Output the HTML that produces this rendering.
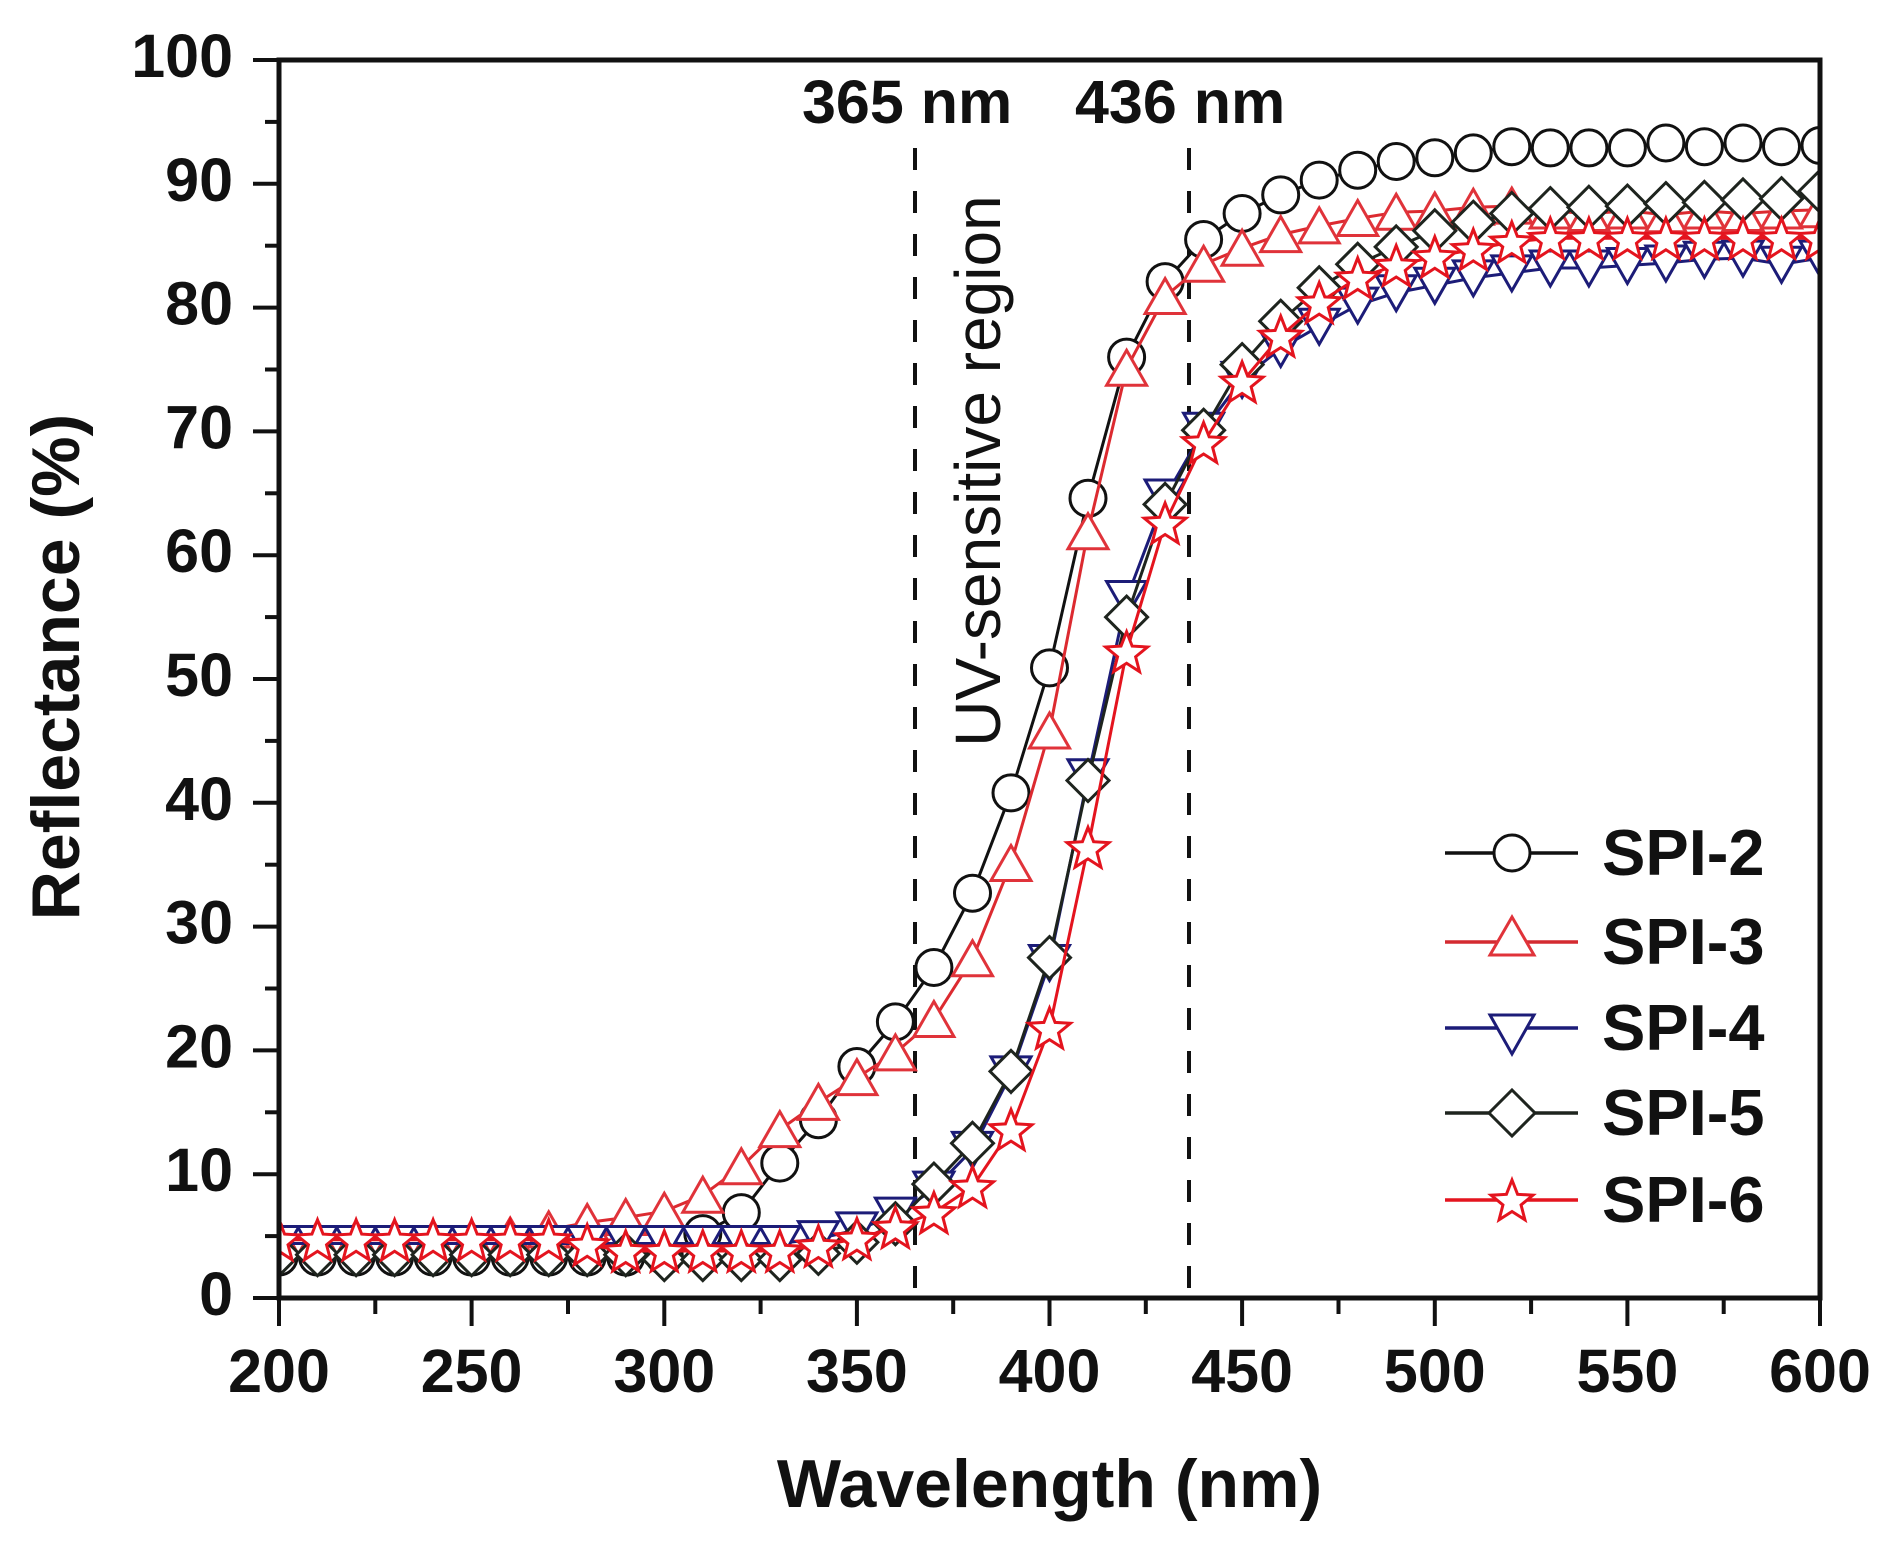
<!DOCTYPE html>
<html><head><meta charset="utf-8"><style>
html,body{margin:0;padding:0;background:#fff;}
svg{display:block;}
text{font-family:"Liberation Sans",Arial,sans-serif;}
</style></head><body>
<svg width="1884" height="1542" viewBox="0 0 1884 1542" xmlns="http://www.w3.org/2000/svg">
<defs>
<clipPath id="pc"><rect x="279" y="60" width="1541" height="1238"/></clipPath>
<marker id="mC" markerUnits="userSpaceOnUse" viewBox="-30 -30 60 60" markerWidth="60" markerHeight="60" refX="0" refY="0" overflow="visible">
<circle cx="0" cy="0" r="18" fill="#fff" stroke="#111" stroke-width="3"/></marker>
<marker id="mT" markerUnits="userSpaceOnUse" viewBox="-30 -30 60 60" markerWidth="60" markerHeight="60" refX="0" refY="0" overflow="visible">
<polygon points="0,-18 20,17 -20,17" fill="#fff" stroke="#e0333a" stroke-width="3" stroke-linejoin="miter"/></marker>
<marker id="mD" markerUnits="userSpaceOnUse" viewBox="-30 -30 60 60" markerWidth="60" markerHeight="60" refX="0" refY="0" overflow="visible">
<polygon points="-20,-17 20,-17 0,18" fill="#fff" stroke="#1c1c78" stroke-width="3"/></marker>
<marker id="mR" markerUnits="userSpaceOnUse" viewBox="-30 -30 60 60" markerWidth="60" markerHeight="60" refX="0" refY="0" overflow="visible">
<polygon points="0,-21 21,0 0,21 -21,0" fill="#fff" stroke="#1e241e" stroke-width="3"/></marker>
<marker id="mS" markerUnits="userSpaceOnUse" viewBox="-30 -30 60 60" markerWidth="60" markerHeight="60" refX="0" refY="0" overflow="visible">
<polygon points="0,-20 5.58,-5.69 20.92,-4.8 9.04,4.94 12.93,19.8 0,11.5 -12.93,19.8 -9.04,4.94 -20.92,-4.8 -5.58,-5.69" fill="#fff" stroke="#e4141e" stroke-width="3"/></marker>
</defs>

<!-- dashed reference lines -->
<line x1="915" y1="148" x2="915" y2="1298" stroke="#111" stroke-width="4" stroke-dasharray="22 21"/>
<line x1="1189" y1="148" x2="1189" y2="1298" stroke="#111" stroke-width="4" stroke-dasharray="22 21"/>

<!-- series -->
<g clip-path="url(#pc)" fill="none" stroke-width="3" stroke-linejoin="round">
<polyline stroke="#111" marker-start="url(#mC)" marker-mid="url(#mC)" marker-end="url(#mC)" points="279,1257.1 317.5,1257.1 356.1,1257.1 394.6,1257.1 433.1,1257.1 471.6,1257.1 510.2,1257.1 548.7,1257.1 587.2,1257.1 625.7,1257.1 664.3,1255.9 702.8,1233.6 741.3,1212.6 779.8,1163.1 818.4,1119.7 856.9,1066.5 895.4,1021.9 933.9,967.5 972.5,893.2 1011,792.9 1049.5,667.9 1088,498.3 1126.6,357.1 1165.1,281.6 1203.6,239.5 1242.1,213.5 1280.7,194.9 1319.2,180.1 1357.7,170.2 1396.2,161.5 1434.8,157.8 1473.3,152.9 1511.8,146.7 1550.3,147.9 1588.9,147.9 1627.4,147.9 1665.9,143 1704.4,146.7 1743,143 1781.5,146.7 1820,145.5"/>
<polyline stroke="#dc2a30" marker-start="url(#mT)" marker-mid="url(#mT)" marker-end="url(#mT)" points="279,1238.6 317.5,1238.6 356.1,1238.6 394.6,1238.6 433.1,1238.6 471.6,1238.6 510.2,1236.1 548.7,1229.9 587.2,1222.5 625.7,1217.5 664.3,1211.3 702.8,1195.2 741.3,1166.8 779.8,1129.6 818.4,1102.4 856.9,1077.6 895.4,1052.9 933.9,1019.5 972.5,958.8 1011,863.5 1049.5,731 1088,531.7 1126.6,368.3 1165.1,296.5 1203.6,264.3 1242.1,248.2 1280.7,234.6 1319.2,225.9 1357.7,218.5 1396.2,212.3 1434.8,211 1473.3,207.3 1511.8,206.1 1550.3,211 1588.9,213.5 1627.4,211 1665.9,214.8 1704.4,211 1743,213.5 1781.5,211 1820,209.8"/>
<polyline stroke="#1c1c78" marker-start="url(#mD)" marker-mid="url(#mD)" marker-end="url(#mD)" points="279,1243.5 317.5,1243.5 356.1,1243.5 394.6,1243.5 433.1,1243.5 471.6,1243.5 510.2,1243.5 548.7,1243.5 587.2,1243.5 625.7,1243.5 664.3,1243.5 702.8,1243.5 741.3,1243.5 779.8,1243.5 818.4,1238.6 856.9,1229.9 895.4,1215.1 933.9,1189.1 972.5,1149.4 1011,1073.9 1049.5,962.5 1088,776.8 1126.6,598.5 1165.1,497 1203.6,430.2 1242.1,379.4 1280.7,348.5 1319.2,326.2 1357.7,305.1 1396.2,292.7 1434.8,285.3 1473.3,277.9 1511.8,272.9 1550.3,268 1588.9,268 1627.4,265.5 1665.9,263 1704.4,259.3 1743,258.1 1781.5,264.3 1820,258.1"/>
<polyline stroke="#1e241e" marker-start="url(#mR)" marker-mid="url(#mR)" marker-end="url(#mR)" points="279,1254.7 317.5,1254.7 356.1,1254.7 394.6,1254.7 433.1,1254.7 471.6,1254.7 510.2,1254.7 548.7,1254.7 587.2,1254.7 625.7,1254.7 664.3,1259.6 702.8,1259.6 741.3,1259.6 779.8,1259.6 818.4,1253.4 856.9,1242.3 895.4,1223.7 933.9,1184.1 972.5,1143.3 1011,1071.4 1049.5,957.6 1088,780.5 1126.6,617.1 1165.1,504.4 1203.6,430.2 1242.1,364.6 1280.7,321.2 1319.2,287.8 1357.7,264.3 1396.2,246.9 1434.8,230.8 1473.3,222.2 1511.8,213.5 1550.3,208.6 1588.9,207.3 1627.4,206.1 1665.9,203.6 1704.4,202.4 1743,199.9 1781.5,198.7 1820,191.2"/>
<polyline stroke="#e4141e" marker-start="url(#mS)" marker-mid="url(#mS)" marker-end="url(#mS)" points="279,1239.8 317.5,1239.8 356.1,1239.8 394.6,1239.8 433.1,1239.8 471.6,1239.8 510.2,1239.8 548.7,1239.8 587.2,1244.8 625.7,1251 664.3,1251 702.8,1251 741.3,1251 779.8,1251 818.4,1246 856.9,1238.6 895.4,1227.4 933.9,1212.6 972.5,1186.6 1011,1129.6 1049.5,1028.1 1088,847.4 1126.6,651.8 1165.1,523 1203.6,442.5 1242.1,381.9 1280.7,336.1 1319.2,302.6 1357.7,277.9 1396.2,265.5 1434.8,256.8 1473.3,249.4 1511.8,242 1550.3,238.3 1588.9,238.3 1627.4,238.3 1665.9,238.3 1704.4,238.3 1743,238.3 1781.5,238.3 1820,238.3"/>
</g>

<!-- frame -->
<rect x="279" y="60" width="1541" height="1238" fill="none" stroke="#111" stroke-width="5"/>

<!-- y ticks -->
<g stroke="#111" stroke-width="4">
<line x1="253" y1="60" x2="279" y2="60"/><line x1="253" y1="183.8" x2="279" y2="183.8"/><line x1="253" y1="307.6" x2="279" y2="307.6"/><line x1="253" y1="431.4" x2="279" y2="431.4"/><line x1="253" y1="555.2" x2="279" y2="555.2"/><line x1="253" y1="679" x2="279" y2="679"/><line x1="253" y1="802.8" x2="279" y2="802.8"/><line x1="253" y1="926.6" x2="279" y2="926.6"/><line x1="253" y1="1050.4" x2="279" y2="1050.4"/><line x1="253" y1="1174.2" x2="279" y2="1174.2"/><line x1="253" y1="1298" x2="279" y2="1298"/>
<line x1="265" y1="121.9" x2="279" y2="121.9"/><line x1="265" y1="245.7" x2="279" y2="245.7"/><line x1="265" y1="369.5" x2="279" y2="369.5"/><line x1="265" y1="493.3" x2="279" y2="493.3"/><line x1="265" y1="617.1" x2="279" y2="617.1"/><line x1="265" y1="740.9" x2="279" y2="740.9"/><line x1="265" y1="864.7" x2="279" y2="864.7"/><line x1="265" y1="988.5" x2="279" y2="988.5"/><line x1="265" y1="1112.3" x2="279" y2="1112.3"/><line x1="265" y1="1236.1" x2="279" y2="1236.1"/>
<!-- x ticks -->
<line x1="279" y1="1298" x2="279" y2="1326"/><line x1="471.6" y1="1298" x2="471.6" y2="1326"/><line x1="664.3" y1="1298" x2="664.3" y2="1326"/><line x1="856.9" y1="1298" x2="856.9" y2="1326"/><line x1="1049.5" y1="1298" x2="1049.5" y2="1326"/><line x1="1242.1" y1="1298" x2="1242.1" y2="1326"/><line x1="1434.8" y1="1298" x2="1434.8" y2="1326"/><line x1="1627.4" y1="1298" x2="1627.4" y2="1326"/><line x1="1820" y1="1298" x2="1820" y2="1326"/>
<line x1="375.3" y1="1298" x2="375.3" y2="1314"/><line x1="568" y1="1298" x2="568" y2="1314"/><line x1="760.6" y1="1298" x2="760.6" y2="1314"/><line x1="953.2" y1="1298" x2="953.2" y2="1314"/><line x1="1145.8" y1="1298" x2="1145.8" y2="1314"/><line x1="1338.5" y1="1298" x2="1338.5" y2="1314"/><line x1="1531.1" y1="1298" x2="1531.1" y2="1314"/><line x1="1723.7" y1="1298" x2="1723.7" y2="1314"/>
</g>

<!-- y tick labels -->
<g font-size="61" font-weight="bold" text-anchor="end" fill="#111">
<text x="233" y="77">100</text><text x="233" y="200.8">90</text><text x="233" y="324.6">80</text><text x="233" y="448.4">70</text><text x="233" y="572.2">60</text><text x="233" y="696">50</text><text x="233" y="819.8">40</text><text x="233" y="943.6">30</text><text x="233" y="1067.4">20</text><text x="233" y="1191.2">10</text><text x="233" y="1315">0</text>
</g>
<!-- x tick labels -->
<g font-size="61" font-weight="bold" text-anchor="middle" fill="#111">
<text x="279" y="1392">200</text><text x="471.6" y="1392">250</text><text x="664.3" y="1392">300</text><text x="856.9" y="1392">350</text><text x="1049.5" y="1392">400</text><text x="1242.1" y="1392">450</text><text x="1434.8" y="1392">500</text><text x="1627.4" y="1392">550</text><text x="1820" y="1392">600</text>
</g>

<!-- axis titles -->
<text x="1049.5" y="1507" font-size="68" font-weight="bold" text-anchor="middle" fill="#111">Wavelength (nm)</text>
<text transform="translate(79,667) rotate(-90)" font-size="68" font-weight="bold" text-anchor="middle" fill="#111">Reflectance (%)</text>

<!-- annotations -->
<text x="802" y="123" font-size="61" font-weight="bold" fill="#111">365 nm</text>
<text x="1075" y="123" font-size="61" font-weight="bold" fill="#111">436 nm</text>
<text transform="translate(1000,471) rotate(-90)" font-size="64" text-anchor="middle" fill="#111">UV-sensitive region</text>

<!-- legend -->
<g stroke-width="3.5">
<line x1="1445" y1="853" x2="1578" y2="853" stroke="#111"/>
<circle cx="1512" cy="853" r="18" fill="#fff" stroke="#111" stroke-width="3"/>
<line x1="1445" y1="942" x2="1578" y2="942" stroke="#d42a30"/>
<polygon points="1512,917 1534,955 1490,955" fill="#fff" stroke="#e0333a" stroke-width="3"/>
<line x1="1445" y1="1028" x2="1578" y2="1028" stroke="#1c1c78"/>
<polygon points="1490,1015 1534,1015 1512,1054" fill="#fff" stroke="#1c1c78" stroke-width="3"/>
<line x1="1445" y1="1113" x2="1578" y2="1113" stroke="#1e241e"/>
<polygon points="1512,1090 1535,1113 1512,1136 1489,1113" fill="#fff" stroke="#1e241e" stroke-width="3"/>
<line x1="1445" y1="1200" x2="1578" y2="1200" stroke="#e4141e"/>
<polygon transform="translate(1512,1200)" points="0,-20 5.58,-5.69 20.92,-4.8 9.04,4.94 12.93,19.8 0,11.5 -12.93,19.8 -9.04,4.94 -20.92,-4.8 -5.58,-5.69" fill="#fff" stroke="#e4141e" stroke-width="3"/>
</g>
<g font-size="65" font-weight="bold" fill="#111">
<text x="1602" y="875">SPI-2</text>
<text x="1602" y="964">SPI-3</text>
<text x="1602" y="1050">SPI-4</text>
<text x="1602" y="1135">SPI-5</text>
<text x="1602" y="1222">SPI-6</text>
</g>
</svg>
</body></html>
